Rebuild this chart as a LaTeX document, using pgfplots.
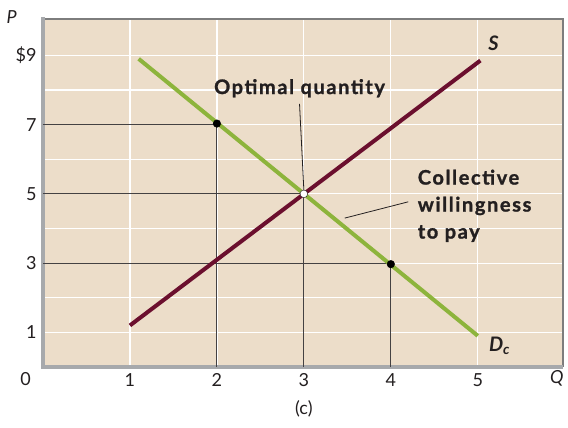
\documentclass[border=0pt]{standalone}
\usepackage{pgfplots}
\pgfplotsset{compat=1.18}
\usepackage{fontspec}
\setmainfont{Lato}
\newfontfamily\labfont[LetterSpace=8, BoldFeatures={FakeBold=1.2}]{Lato}
\definecolor{bg}{HTML}{ECDDC9}
\definecolor{supply}{HTML}{6B0F2E}
\definecolor{demand}{HTML}{8DB43C}
\definecolor{axgray}{HTML}{A7A9AC}
\definecolor{frame}{HTML}{7D7D7D}
\definecolor{txt}{HTML}{231F20}
\begin{document}
\begin{tikzpicture}
\useasboundingbox (-43pt,-61pt) rectangle (525pt,367pt);
\begin{axis}[
  at={(0,0)}, anchor=origin,
  scale only axis, width=520pt, height=348pt,
  xmin=0, xmax=5.98, ymin=0, ymax=10.05,
  axis line style={draw=none},
  axis background/.style={fill=bg},
  xtick={1,2,3,4,5}, ytick={1,3,5,7,9},
  yticklabels={1,3,5,7,\$9},
  xticklabels={1,2,3,4,5},
  extra y ticks={2,4,6,8}, extra y tick labels={},
  extra y tick style={grid=major},
  grid=major,
  major grid style={white, line width=1.2pt},
  major tick length=0pt,
  tick label style={font=\fontsize{18}{20}\selectfont, text=txt},
  xticklabel style={yshift=-3pt},
  yticklabel style={xshift=-3pt},
  /pgf/number format/assume math mode=true,
  clip=false,
]
% frame
\draw[frame, line width=1.5pt] (axis cs:0,10.05) -- (axis cs:5.98,10.05) -- (axis cs:5.98,0);
\draw[axgray, line width=4pt] (axis cs:0,10.1) -- (axis cs:0,0) -- (axis cs:5.98,0);
% guide lines
\addplot[txt!85, line width=0.9pt] coordinates {(0,7) (2,7) (2,0)};
\addplot[txt!85, line width=0.9pt] coordinates {(0,5) (3,5) (3,0)};
\addplot[txt!85, line width=0.9pt] coordinates {(0,3) (4,3) (4,0)};
% curves
\addplot[supply, line width=4pt] coordinates {(1,1.2) (5.03,8.85)};
\addplot[demand, line width=4pt] coordinates {(1.1,8.9) (5,0.9)};
% leaders
\addplot[txt, line width=0.8pt] coordinates {(2.95,7.6) (3.0,5.1)};
\addplot[txt, line width=0.8pt] coordinates {(3.47,4.3) (4.2,4.77)};
% points
\addplot[only marks, mark=*, mark size=3.8pt, black] coordinates {(2,7.03) (4,2.97)};
\addplot[only marks, mark=*, mark size=3.8pt, draw=txt, fill=white] coordinates {(3,5)};
% labels
\node[font=\fontsize{20}{22}\labfont\bfseries, text=txt] at (axis cs:2.95,8.05) {Optimal quantity};
\node[font=\fontsize{20}{27}\labfont\bfseries, text=txt, align=left, anchor=north west] at (axis cs:4.27,5.8) {Collective\\willingness\\to pay};
\node[font=\fontsize{20}{22}\selectfont\bfseries\itshape, text=txt] at (axis cs:5.18,9.35) {S};
\node[font=\fontsize{20}{22}\selectfont\bfseries\itshape, text=txt] at (axis cs:5.25,0.62) {D\textsubscript{c}};
\node[font=\fontsize{18}{20}\selectfont\itshape, text=txt] at (axis cs:-0.36,10.1) {P};
\node[font=\fontsize{18}{20}\selectfont\itshape, text=txt, anchor=east, inner xsep=1pt] at (axis cs:6.0,-0.34) {Q};
\node[font=\fontsize{18}{20}\selectfont, text=txt] at (axis cs:-0.2,-0.34) {0};
\node[font=\fontsize{18}{20}\selectfont, text=txt] at (axis cs:3,-1.2) {(c)};
\end{axis}
\end{tikzpicture}
\end{document}
